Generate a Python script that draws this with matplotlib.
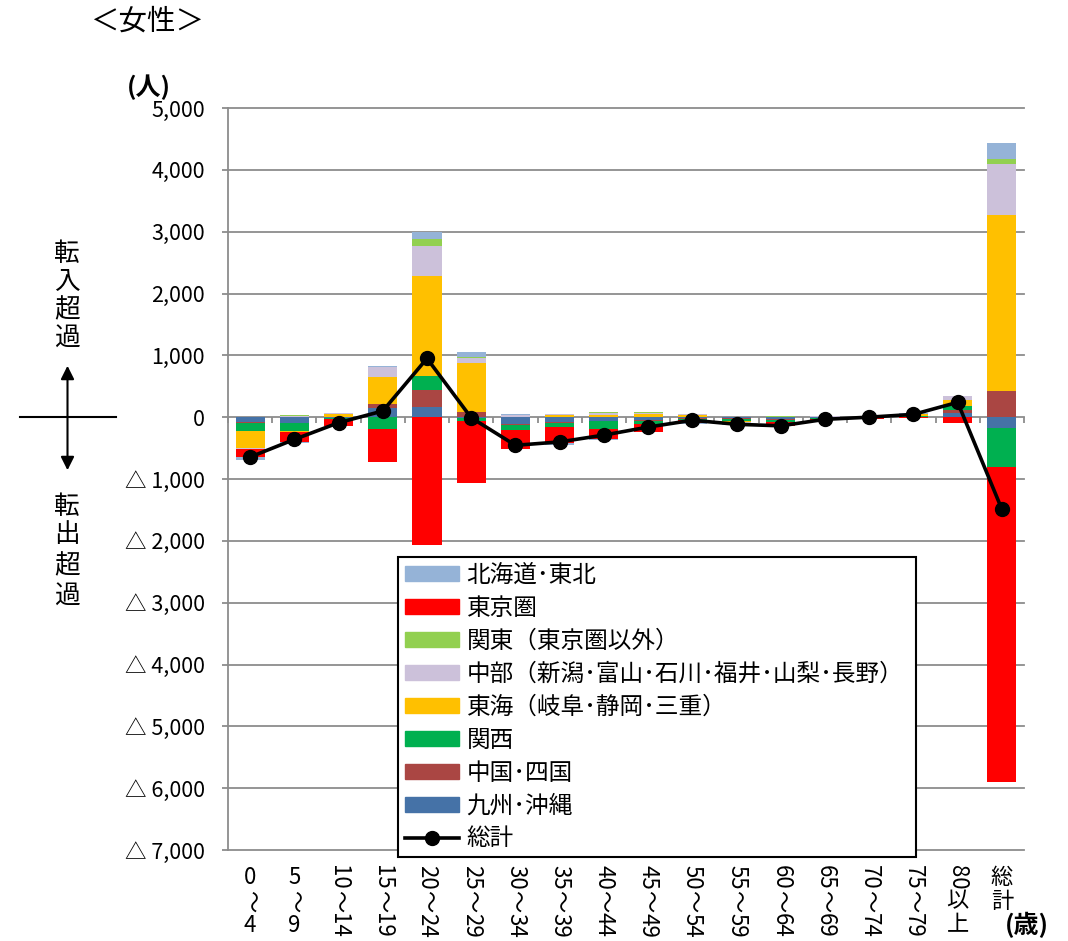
import matplotlib.pyplot as plt
import numpy as np
from matplotlib.patches import Patch, FancyArrowPatch
from matplotlib.lines import Line2D
from matplotlib.ticker import FuncFormatter
from matplotlib.transforms import blended_transform_factory

plt.rcParams['font.family'] = ['Noto Sans CJK JP', 'DejaVu Sans']

ages = ['0～4', '5～9', '10～14', '15～19', '20～24', '25～29', '30～34', '35～39',
        '40～44', '45～49', '50～54', '55～59', '60～64', '65～69', '70～74', '75～79',
        '80以上', '総計']

# net migration by origin region (women)
kyushu   = [-80, -95, -10, 145, 160, -10, -110, -80, -60, -45, -20, -20, -25, -10, -5, 5, 70, -175]
chugoku  = [-10, 10, 5, 60, 280, 80, -10, -10, -10, -10, -5, -10, -15, -5, -5, 5, 40, 420]
kansai   = [-135, -130, -15, -190, 232, -55, -90, -65, -120, -50, -15, -40, -35, -10, 5, 10, 70, -629]
tokai    = [-270, -15, 45, 440, 1607, 788, 10, 30, 40, 45, 35, -15, -10, 10, 15, 25, 90, 2853]
chubu    = [-15, 15, 10, 160, 485, 92, 25, 15, 30, 30, 15, -5, 10, 5, 5, 10, 65, 818]
kanto    = [-5, 5, 10, 10, 110, 5, 5, 5, 10, 5, 5, 5, 5, 0, 0, 0, 5, 91]
tokyo    = [-130, -160, -120, -530, -2060, -998, -300, -270, -170, -130, -60, -25, -50, -20, -15, -15, -95, -5091]
hokkaido = [-45, -10, -5, 15, 120, 92, 15, -25, -10, -5, -5, -5, -10, -5, 0, 5, 0, 245]
total    = [-645, -360, -90, 100, 950, -10, -455, -400, -290, -160, -50, -115, -140, -35, 0, 45, 240, -1490]

# stacking order (from the zero line outward)
series = [
    ('九州･沖縄', kyushu, '#4572A7'),
    ('中国･四国', chugoku, '#AA4643'),
    ('関西', kansai, '#00B050'),
    ('東海（岐阜･静岡･三重）', tokai, '#FFC000'),
    ('中部（新潟･富山･石川･福井･山梨･長野）', chubu, '#CCC1DA'),
    ('関東（東京圏以外）', kanto, '#92D050'),
    ('東京圏', tokyo, '#FF0000'),
    ('北海道･東北', hokkaido, '#95B3D7'),
]
legend_order = [7, 6, 5, 4, 3, 2, 1, 0]

W, H = 1068, 941
fig = plt.figure(figsize=(W / 100, H / 100), dpi=100)
ax = fig.add_axes([228 / W, 1 - 850 / H, 796 / W, 742 / H])

n = len(ages)
x = np.arange(n)
pos = np.zeros(n)
neg = np.zeros(n)
for label, vals, color in series:
    v = np.array(vals, dtype=float)
    base = np.where(v >= 0, pos, neg)
    ax.bar(x, v, 0.66, bottom=base, color=color, linewidth=0, zorder=2)
    pos += np.clip(v, 0, None)
    neg += np.clip(v, None, 0)

ax.plot(x, total, color='black', lw=2.6, marker='o', ms=10, zorder=5)

grey = '#8c8c8c'
ax.set_xlim(-0.5, n - 0.5)
ax.set_ylim(-7000, 5000)
ax.set_yticks(range(-7000, 5001, 1000))


def fmt(v, _):
    v = int(round(v))
    if v > 0:
        return f'{v:,}'
    if v == 0:
        return '0'
    return f'△ {-v:,}'


ax.yaxis.set_major_formatter(FuncFormatter(fmt))
ax.grid(axis='y', color=grey, lw=1.3)
ax.set_axisbelow(True)
for g in ax.get_ygridlines():
    g.set_clip_on(False)
for s in ['top', 'right', 'bottom']:
    ax.spines[s].set_visible(False)
ax.spines['left'].set_color(grey)
ax.spines['left'].set_linewidth(1.3)
ax.tick_params(axis='y', direction='out', length=4.5, width=1.3, color=grey,
               pad=12, labelsize=15.5)
ax.set_xticks([])
# category boundary ticks hanging off the zero line
ax.vlines(np.arange(n + 1) - 0.5, -100, 0, color=grey, lw=1.3, zorder=1, clip_on=False)

# vertical category labels
tr = blended_transform_factory(ax.transData, fig.transFigure)
for i, lab in enumerate(ages):
    if '～' in lab:
        a, b = lab.split('～')
        pieces = [(a, 270 if len(a) > 1 else 0), ('～', 270), (b, 270 if len(b) > 1 else 0)]
    elif lab.endswith('以上'):
        pieces = [(lab[:-2], 270), ('以', 0), ('上', 0)]
    else:
        pieces = [(c, 0) for c in lab]
    for k, (txt, rot) in enumerate(pieces):
        yy = 877 + k * 24
        ax.text(i, 1 - yy / H, txt, transform=tr, rotation=rot, ha='center', va='center',
                fontsize=16, rotation_mode='anchor')

fig.text(1027 / W, 1 - 925 / H, '(歳)', ha='center', va='center', fontsize=18, fontweight='bold')
fig.text(149 / W, 1 - 87 / H, '(人)', ha='center', va='center', fontsize=18, fontweight='bold')
fig.text(147 / W, 1 - 22 / H, '＜女性＞', ha='center', va='center', fontsize=20.5)

# in / out annotation on the left
fig.add_artist(Line2D([20 / W, 116 / W], [1 - 417 / H] * 2, color='black', lw=1.5))
fig.add_artist(FancyArrowPatch((67.5 / W, 1 - 473 / H), (67.5 / W, 1 - 363 / H),
                               arrowstyle='<|-|>', mutation_scale=20, color='black', lw=1.5,
                               transform=fig.transFigure))
for c, yy in zip('転入超過', [254, 282, 310, 339]):
    fig.text(67 / W, 1 - yy / H, c, ha='center', va='center', fontsize=18.5)
for c, yy in zip('転出超過', [507, 535, 566, 597]):
    fig.text(67 / W, 1 - yy / H, c, ha='center', va='center', fontsize=18.5)

handles = [Patch(color=series[j][2]) for j in legend_order]
labels = [series[j][0] for j in legend_order]
handles.append(Line2D([], [], color='black', lw=2.6, marker='o', ms=10))
labels.append('総計')
leg = fig.legend(handles, labels, loc='upper left',
                 bbox_to_anchor=(398 / W, 1 - 557 / H - 0.01, 518 / W, 0.01), mode='expand',
                 bbox_transform=fig.transFigure, fontsize=17, frameon=True, fancybox=False,
                 framealpha=1, edgecolor='black', borderaxespad=0, borderpad=0.3,
                 labelspacing=0.42, handlelength=2.3, handleheight=0.6, handletextpad=0.3)
leg.get_frame().set_linewidth(1.5)

fig.savefig('out.png', dpi=100)
